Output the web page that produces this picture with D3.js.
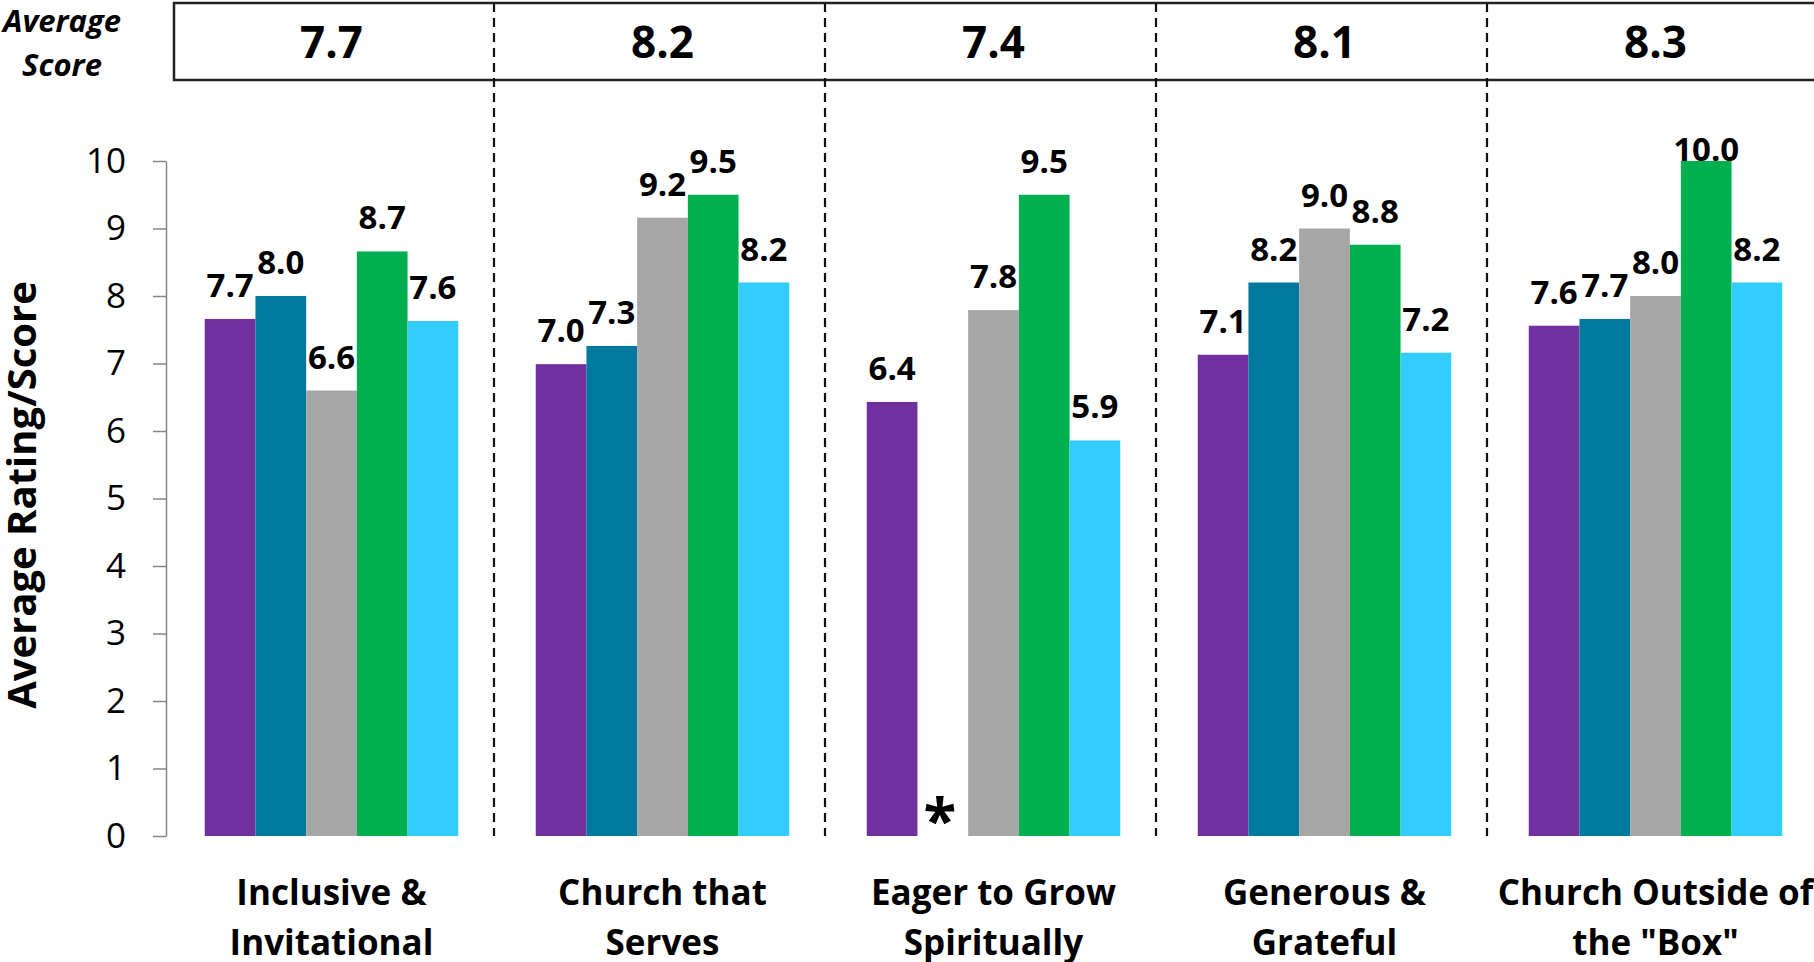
<!DOCTYPE html>
<html>
<head>
<meta charset="utf-8">
<script src="https://cdn.jsdelivr.net/npm/d3@7"></script>
<style>
  body { margin: 0; background: #fff; }
  svg { display: block; }
  .axis path, .axis line { stroke: #868686; stroke-width: 1.5; }
  .axis text { font-family: "Open Sans", sans-serif; font-size: 35px; fill: #000; }
</style>
</head>
<body>
<div id="chart"></div>
<script>
// categories along the bottom (two lines each)
var categories = [
  ["Inclusive &", "Invitational"],
  ["Church that", "Serves"],
  ["Eager to Grow", "Spiritually"],
  ["Generous &", "Grateful"],
  ["Church Outside of", "the \"Box\""]
];
var averageScores = [7.7, 8.2, 7.4, 8.1, 8.3];

// one array per bar colour, in category order (null = no data, drawn as *)
var series1 = [7.66, 6.99, 6.43, 7.13, 7.56];
var series2 = [8.0, 7.26, null, 8.2, 7.66];
var series3 = [6.6, 9.16, 7.79, 9.0, 8.0];
var series4 = [8.66, 9.5, 9.5, 8.76, 10.0];
var series5 = [7.63, 8.2, 5.86, 7.16, 8.2];
var seriesNames = ["series1", "series2", "series3", "series4", "series5"];
var yTicks = [0, 1, 2, 3, 4, 5, 6, 7, 8, 9, 10];

var colors = ["#7030A0", "#00799F", "#A6A6A6", "#00B050", "#33CCFF"];
var allSeries = [series1, series2, series3, series4, series5];

var W = 1814, H = 962;
var plotLeft = 166, plotRight = 1821;

var svg = d3.select("#chart").append("svg")
  .attr("width", W)
  .attr("height", H);

var x0 = d3.scaleBand()
  .domain(d3.range(categories.length))
  .range([plotLeft, plotRight]);

var x1 = d3.scaleBand()
  .domain(seriesNames)
  .range([38.75, x0.bandwidth() - 38.75]);

var y = d3.scaleLinear()
  .domain([0, 10])
  .range([836, 161]);

// top "Average Score" box
svg.append("rect")
  .attr("x", 174).attr("y", 3)
  .attr("width", W).attr("height", 77)
  .attr("fill", "none")
  .attr("stroke", "#222")
  .attr("stroke-width", 2.5);

var hdr = svg.append("text")
  .attr("text-anchor", "middle")
  .style("font-family", "'Open Sans', sans-serif")
  .style("font-weight", "bold")
  .style("font-style", "italic")
  .style("font-size", "31px");
hdr.append("tspan").attr("x", 62).attr("y", 32).text("Average");
hdr.append("tspan").attr("x", 62).attr("y", 76).text("Score");

svg.selectAll(".avg")
  .data(averageScores)
  .enter().append("text")
    .attr("class", "avg")
    .attr("x", function(d, i) { return x0(i) + x0.bandwidth() / 2; })
    .attr("y", 58)
    .attr("text-anchor", "middle")
    .style("font-family", "'Open Sans', sans-serif")
    .style("font-weight", "bold")
    .style("font-size", "44px")
    .text(function(d) { return d.toFixed(1); });

// dashed separators
svg.selectAll(".sep")
  .data(d3.range(1, categories.length))
  .enter().append("line")
    .attr("class", "sep")
    .attr("x1", function(i) { return x0(i) - 3; })
    .attr("x2", function(i) { return x0(i) - 3; })
    .attr("y1", 3)
    .attr("y2", y(0))
    .attr("stroke", "#111")
    .attr("stroke-width", 2.2)
    .attr("stroke-dasharray", "9,6");

// bars
var groups = svg.selectAll(".grp")
  .data(categories)
  .enter().append("g")
    .attr("class", "grp")
    .attr("transform", function(d, i) { return "translate(" + x0(i) + ",0)"; });

groups.each(function(c, ci) {
  var g = d3.select(this);
  var rows = allSeries.map(function(s, si) { return { key: seriesNames[si], v: s[ci], color: colors[si] }; });
  var present = rows.filter(function(r) { return r.v != null; });

  g.selectAll("rect")
    .data(present)
    .enter().append("rect")
      .attr("x", function(r) { return x1(r.key); })
      .attr("y", function(r) { return y(r.v); })
      .attr("width", x1.bandwidth())
      .attr("height", function(r) { return y(0) - y(r.v); })
      .attr("fill", function(r) { return r.color; });

  // labels sit above the bar, but never above the top of the plot
  g.selectAll(".lbl")
    .data(present)
    .enter().append("text")
      .attr("class", "lbl")
      .attr("x", function(r) { return x1(r.key) + x1.bandwidth() / 2; })
      .attr("y", function(r) { return Math.max(y(r.v) - 22, y(10)); })
      .attr("text-anchor", "middle")
      .style("font-family", "'Open Sans', sans-serif")
      .style("font-weight", "bold")
      .style("font-size", "33px")
      .text(function(r) { return r.v.toFixed(1); });

  g.selectAll(".star")
    .data(rows.filter(function(r) { return r.v == null; }))
    .enter().append("text")
      .attr("class", "star")
      .attr("x", function(r) { return x1(r.key) + x1.bandwidth() / 2 - 3; })
      .attr("y", y(0) + 6)
      .attr("text-anchor", "middle")
      .style("font-family", "'Open Sans', sans-serif")
      .style("font-weight", "bold")
      .style("font-size", "60px")
      .text("*");
});

// category labels
var cat = svg.selectAll(".cat")
  .data(categories)
  .enter().append("text")
    .attr("class", "cat")
    .attr("text-anchor", "middle")
    .style("font-family", "'Open Sans', sans-serif")
    .style("font-weight", "bold")
    .style("font-size", "35px");
cat.each(function(lines, i) {
  var t = d3.select(this);
  lines.forEach(function(line, k) {
    t.append("tspan")
      .attr("x", x0(i) + x0.bandwidth() / 2)
      .attr("y", 905 + k * 50)
      .text(line);
  });
});

// y axis
svg.append("g")
  .attr("class", "axis")
  .attr("transform", "translate(" + plotLeft + ",0)")
  .call(d3.axisLeft(y).tickValues(yTicks).tickSize(13).tickSizeOuter(0).tickPadding(27));

svg.append("text")
  .attr("transform", "translate(36," + 495 + ") rotate(-90)")
  .attr("text-anchor", "middle")
  .style("font-family", "'Open Sans', sans-serif")
  .style("font-weight", "bold")
  .style("font-size", "40px")
  .text("Average Rating/Score");
</script>
</body>
</html>
